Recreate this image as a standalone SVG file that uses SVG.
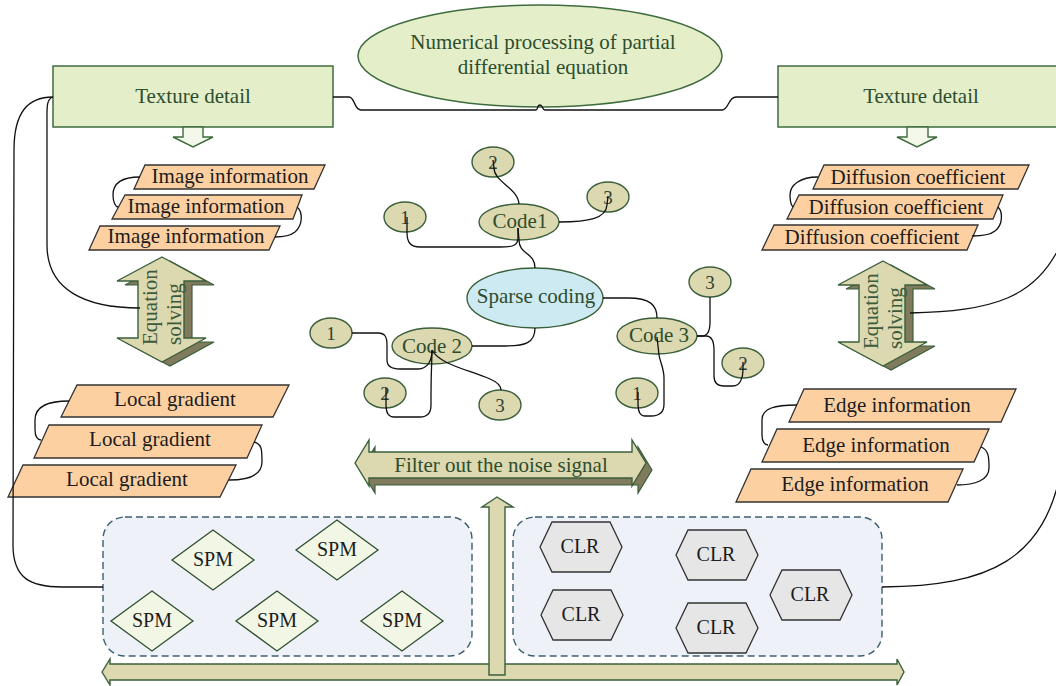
<svg xmlns="http://www.w3.org/2000/svg" width="1056" height="686" viewBox="0 0 1056 686">
<style>
.gbox{fill:#e4efc9;stroke:#3f6b3f;stroke-width:1.5}
.gtxt{font-family:"Liberation Serif","Times New Roman",serif;fill:#2e4d2e;font-size:21px;text-anchor:middle}
.para{fill:#fdd0a2;stroke:#333;stroke-width:1.3}
.ptxt{font-family:"Liberation Serif","Times New Roman",serif;fill:#1c1c1c;font-size:21px;text-anchor:middle}
.kh{fill:#dcd8b0;stroke:#3b5f3b;stroke-width:1.4}
.dk{fill:#7f7b5c;stroke:#3b5f3b;stroke-width:1.2}
.sp{fill:#cde9f1;stroke:#3b5f3b;stroke-width:1.4}
.down{fill:#f4f8ea;stroke:#3f6b3f;stroke-width:1.4}
.ntxt{font-family:"Liberation Serif","Times New Roman",serif;fill:#2e4030;font-size:19px;text-anchor:middle}
.conn{fill:none;stroke:#111;stroke-width:1.3}
.cont{fill:#eef2f8;stroke:#3d5f6f;stroke-width:1.4;stroke-dasharray:7 4}
.spm{fill:#f2f6e4;stroke:#2f4f2f;stroke-width:1.3}
.clr{fill:#e6e6e6;stroke:#333;stroke-width:1.3}
.btxt{font-family:"Liberation Serif","Times New Roman",serif;fill:#1c1c1c;font-size:20px;text-anchor:middle}
.rtxt{font-family:"Liberation Serif","Times New Roman",serif;fill:#3b5a3b;font-size:21px}
</style>
<defs>
<polygon id="eqArrow" points="162,257 206,281 184,281 184,338 206,338 162,362 117,338 138,338 138,281 117,281"/>
<polygon id="spmShape" points="0,-30 41,0 0,30 -41,0"/>
<polygon id="clrShape" points="-41,0 -29,-25 29,-25 41,0 29,25 -29,25"/>
</defs>

<g id="containers">
<rect id="spm-container" class="cont" x="103" y="517" width="369" height="139" rx="22"/>
<rect id="clr-container" class="cont" x="513" y="517" width="369" height="139" rx="22"/>
</g>

<g id="top-ellipse">
<ellipse class="gbox" cx="540" cy="56" rx="182" ry="51"/>
<text class="gtxt" x="543" y="49">Numerical processing of partial</text>
<text class="gtxt" x="543" y="74">differential equation</text>
</g>

<g id="texture-left">
<rect class="gbox" x="53" y="66" width="280" height="61"/>
<text class="gtxt" x="193" y="103">Texture detail</text>
<polygon class="down" points="183,127 203,127 203,137 213,137 193,147 173,137 183,137"/>
</g>
<g id="texture-right">
<rect class="gbox" x="778" y="66" width="290" height="61"/>
<text class="gtxt" x="921" y="103">Texture detail</text>
<polygon class="down" points="907,127 928,127 928,137 937,137 917,147 897,137 907,137"/>
</g>

<g id="image-info">
<polygon class="para" points="145,165 325,165 314,189 134,189"/>
<text class="ptxt" x="230" y="183">Image information</text>
<polygon class="para" points="125,195 302,195 293,219 112,219"/>
<text class="ptxt" x="206" y="213">Image information</text>
<polygon class="para" points="100,226 280,226 269,250 89,250"/>
<text class="ptxt" x="186" y="243">Image information</text>
</g>

<g id="diffusion">
<polygon class="para" points="824,165 1029,165 1018,189 813,189"/>
<text class="ptxt" x="918" y="184">Diffusion coefficient</text>
<polygon class="para" points="799,195 1003,195 993,219 787,219"/>
<text class="ptxt" x="896" y="214">Diffusion coefficient</text>
<polygon class="para" points="774,225 978,225 967,250 762,250"/>
<text class="ptxt" x="872" y="244">Diffusion coefficient</text>
</g>

<g id="local-gradient">
<polygon class="para" points="77,385 289,385 273,417 61,417"/>
<text class="ptxt" x="175" y="406">Local gradient</text>
<polygon class="para" points="49,425 262,425 247,458 34,458"/>
<text class="ptxt" x="150" y="446">Local gradient</text>
<polygon class="para" points="23,465 236,465 220,497 8,497"/>
<text class="ptxt" x="127" y="486">Local gradient</text>
</g>

<g id="edge-info">
<polygon class="para" points="804,389 1016,389 1001,422 789,422"/>
<text class="ptxt" x="897" y="412">Edge information</text>
<polygon class="para" points="777,429 989,429 974,462 762,462"/>
<text class="ptxt" x="876" y="452">Edge information</text>
<polygon class="para" points="751,469 963,469 948,502 736,502"/>
<text class="ptxt" x="855" y="491">Edge information</text>
</g>

<g id="equation-left">
<use href="#eqArrow" class="dk" transform="translate(8,4)"/>
<use href="#eqArrow" class="kh"/>
<text class="rtxt" transform="translate(157,345) rotate(-90)">Equation</text>
<text class="rtxt" transform="translate(181,345) rotate(-90)">solving</text>
</g>
<g id="equation-right">
<use href="#eqArrow" class="dk" transform="translate(729,8)"/>
<use href="#eqArrow" class="kh" transform="translate(721,4)"/>
<text class="rtxt" transform="translate(878,349) rotate(-90)">Equation</text>
<text class="rtxt" transform="translate(902,349) rotate(-90)">solving</text>
</g>

<g id="filter-arrow">
<polygon class="dk" transform="translate(6,7)" points="355,463 369,440 369,452 632,452 632,440 646,463 632,486 632,478 369,478 369,486"/>
<polygon class="kh" points="355,463 369,440 369,452 632,452 632,440 646,463 632,486 632,478 369,478 369,486"/>
<text class="gtxt" x="501" y="472">Filter out the noise signal</text>
</g>

<g id="bottom-arrow">
<polygon class="kh" points="102,672 110,659 110,664 897,664 897,659 904,672 897,685 897,680 110,680 110,685"/>
</g>
<g id="up-arrow">
<polygon class="kh" points="497,497 513,507 505,507 505,675 489,675 489,507 482,507"/>
</g>

<g id="sparse-coding">
<ellipse class="sp" cx="535" cy="298" rx="68" ry="30"/>
<text class="gtxt" x="536" y="303">Sparse coding</text>
</g>
<g id="code1">
<ellipse class="kh" cx="519" cy="222" rx="40" ry="18"/>
<text class="gtxt" x="520" y="228">Code1</text>
</g>
<g id="code1-n1"><ellipse class="kh" cx="405" cy="217" rx="21" ry="15"/><text class="ntxt" x="405" y="224">1</text></g>
<g id="code1-n2"><ellipse class="kh" cx="493" cy="162" rx="21" ry="15"/><text class="ntxt" x="493" y="169">2</text></g>
<g id="code1-n3"><ellipse class="kh" cx="608" cy="197" rx="21" ry="15"/><text class="ntxt" x="608" y="204">3</text></g>
<g id="code2">
<ellipse class="kh" cx="432" cy="346" rx="40" ry="18"/>
<text class="gtxt" x="432" y="353">Code 2</text>
</g>
<g id="code2-n1"><ellipse class="kh" cx="331" cy="333" rx="21" ry="15"/><text class="ntxt" x="331" y="340">1</text></g>
<g id="code2-n2"><ellipse class="kh" cx="385" cy="393" rx="21" ry="15"/><text class="ntxt" x="385" y="400">2</text></g>
<g id="code2-n3"><ellipse class="kh" cx="500" cy="405" rx="21" ry="15"/><text class="ntxt" x="500" y="412">3</text></g>
<g id="code3">
<ellipse class="kh" cx="657" cy="336" rx="40" ry="18"/>
<text class="gtxt" x="659" y="342">Code 3</text>
</g>
<g id="code3-n1"><ellipse class="kh" cx="637" cy="393" rx="21" ry="15"/><text class="ntxt" x="637" y="400">1</text></g>
<g id="code3-n2"><ellipse class="kh" cx="743" cy="363" rx="21" ry="15"/><text class="ntxt" x="743" y="370">2</text></g>
<g id="code3-n3"><ellipse class="kh" cx="710" cy="282" rx="21" ry="15"/><text class="ntxt" x="710" y="289">3</text></g>

<g id="spm-nodes">
<g id="spm1"><use href="#spmShape" class="spm" x="213" y="560"/><text class="btxt" x="213" y="566">SPM</text></g>
<g id="spm2"><use href="#spmShape" class="spm" x="337" y="550"/><text class="btxt" x="337" y="556">SPM</text></g>
<g id="spm3"><use href="#spmShape" class="spm" x="152" y="621"/><text class="btxt" x="152" y="627">SPM</text></g>
<g id="spm4"><use href="#spmShape" class="spm" x="277" y="621"/><text class="btxt" x="277" y="627">SPM</text></g>
<g id="spm5"><use href="#spmShape" class="spm" x="402" y="621"/><text class="btxt" x="402" y="627">SPM</text></g>
</g>
<g id="clr-nodes">
<g id="clr1"><use href="#clrShape" class="clr" x="581" y="547"/><text class="btxt" x="580" y="553">CLR</text></g>
<g id="clr2"><use href="#clrShape" class="clr" x="717" y="555"/><text class="btxt" x="716" y="561">CLR</text></g>
<g id="clr3"><use href="#clrShape" class="clr" x="582" y="615"/><text class="btxt" x="581" y="621">CLR</text></g>
<g id="clr4"><use href="#clrShape" class="clr" x="717" y="628"/><text class="btxt" x="716" y="634">CLR</text></g>
<g id="clr5"><use href="#clrShape" class="clr" x="811" y="595"/><text class="btxt" x="810" y="601">CLR</text></g>
</g>

<g id="connectors">
<path class="conn" d="M333 97 L349 97 C355 97 354 110 361 110 L536 110 C538 110 537 105 540 105 C543 105 542 110 545 110 L722 110 C729 110 728 97 736 97 L778 97"/>
<path class="conn" d="M53 97 C46 99 47 108 47 125 L47 245 C47 290 85 308 140 308"/>
<path class="conn" d="M53 97 C28 97 14 112 14 150 L13 545 C13 578 30 587 62 587 L103 587"/>
<path class="conn" d="M910 313 C990 311 1040 300 1064 236"/>
<path class="conn" d="M882 587 C990 586 1045 560 1062 466"/>
<path class="conn" d="M140 177 C120 177 113 185 113 195 C113 203 116 207 118 207"/>
<path class="conn" d="M297 207 C303 212 303 225 295 232 C290 236 283 237 275 237"/>
<path class="conn" d="M818 177 C800 177 790 185 790 195 C790 202 792 206 793 207"/>
<path class="conn" d="M998 207 C1003 212 1003 225 995 231 C990 235 982 236 972 236"/>
<path class="conn" d="M69 401 C50 401 35 405 35 420 L35 430 C35 437 38 440 41 440"/>
<path class="conn" d="M254 442 C262 444 262 450 262 462 C262 475 250 480 229 480"/>
<path class="conn" d="M797 405 C775 405 762 408 762 420 L762 435 C762 442 765 445 768 445"/>
<path class="conn" d="M981 447 C989 450 989 458 989 468 C989 480 975 485 957 485"/>
<path class="conn" d="M535 268 C535 252 519 255 519 240 L518 228"/>
<path class="conn" d="M518 228 L518 238 C518 246 512 247 500 247 L420 247 C410 247 407 242 407 232 L407 217"/>
<path class="conn" d="M519 204 C518 188 494 182 494 168 L493 160"/>
<path class="conn" d="M559 222 C590 222 606 218 607 205 L608 196"/>
<path class="conn" d="M535 328 C535 343 525 346 505 346 L472 346"/>
<path class="conn" d="M603 298 L628 298 C650 298 657 305 657 318"/>
<path class="conn" d="M352 333 L378 333 C385 333 387 337 387 345 L387 360 C387 366 392 369 400 369 L418 369 C428 369 432 360 432 350"/>
<path class="conn" d="M432 350 C432 360 431 370 431 395 L431 405 C431 413 427 417 420 417 L394 417 C389 417 386 413 386 405 L386 388"/>
<path class="conn" d="M432 350 C440 365 470 370 490 379 C497 382 501 385 501 390"/>
<path class="conn" d="M697 336 L702 336 C708 336 710 330 710 322 L710 297"/>
<path class="conn" d="M697 336 L706 336 C712 336 714 342 714 350 L714 376 C714 382 717 386 724 386 L733 386 C740 386 743 378 743 370 L743 362"/>
<path class="conn" d="M657 337 L659 355 C660 362 664 368 664 378 L664 404 C664 412 659 416 651 416 L645 416 C640 416 638 412 638 404 L638 392"/>
</g>
</svg>
